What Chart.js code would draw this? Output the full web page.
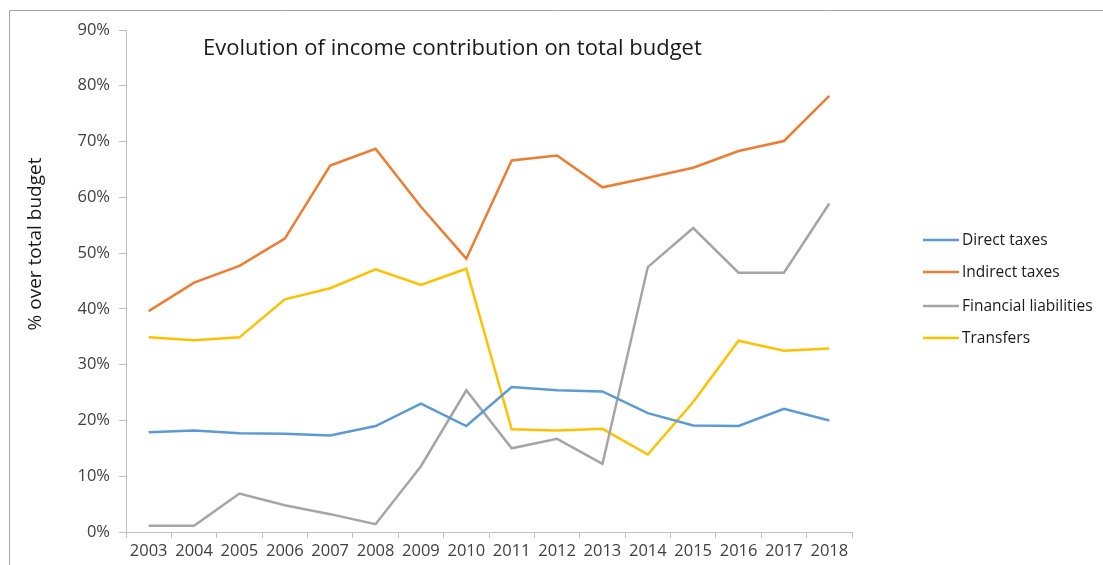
<!DOCTYPE html>
<html>
<head>
<meta charset="utf-8">
<title>Evolution of income contribution on total budget</title>
<script src="https://cdn.jsdelivr.net/npm/chart.js@4.4.1/dist/chart.umd.min.js"></script>
<style>
  html, body { margin: 0; padding: 0; background: #ffffff; }
  #wrap { width: 1103px; height: 565px; position: relative; }
</style>
</head>
<body>
<div id="wrap"><canvas id="chart" width="1103" height="565"></canvas></div>
<script>
// Budget shares by income source, percent of total budget
const years = ['2003','2004','2005','2006','2007','2008','2009','2010','2011','2012','2013','2014','2015','2016','2017','2018'];
const directTaxes = [17.9, 18.2, 17.7, 17.6, 17.3, 19.0, 23.0, 19.0, 26.0, 25.4, 25.2, 21.3, 19.1, 19.0, 22.1, 20.0];
const indirectTaxes = [39.6, 44.7, 47.7, 52.6, 65.7, 68.7, 58.3, 49.0, 66.6, 67.5, 61.8, 63.5, 65.3, 68.3, 70.1, 78.2];
const financialLiabilities = [1.1, 1.1, 6.9, 4.8, 3.2, 1.4, 11.8, 25.4, 15.0, 16.7, 12.2, 47.5, 54.5, 46.5, 46.5, 58.9];
const transfers = [34.9, 34.4, 34.9, 41.7, 43.7, 47.1, 44.3, 47.2, 18.4, 18.2, 18.5, 13.9, 23.3, 34.3, 32.5, 32.9];

const seriesNames = ['Direct taxes', 'Indirect taxes', 'Financial liabilities', 'Transfers'];
const seriesColors = ['#5B9BD5', '#ED7D31', '#A5A5A5', '#FFC000'];
const chartTitle = 'Evolution of income contribution on total budget';
const yAxisTitle = '% over total budget';

const FONT = '"Open Sans", "Liberation Sans", sans-serif';
const TEXT = '#404040';

// Frame, title, rotated axis title and legend drawn on the canvas
const decorations = {
  id: 'decorations',
  beforeDraw(chart) {
    const ctx = chart.ctx;
    ctx.save();
    ctx.strokeStyle = '#a6a6a6';
    ctx.lineWidth = 1;
    ctx.beginPath();
    ctx.moveTo(9.5, 565);
    ctx.lineTo(9.5, 10.5);
    ctx.lineTo(1103, 10.5);
    ctx.stroke();
    ctx.restore();
  },
  afterDraw(chart) {
    const ctx = chart.ctx;
    ctx.save();
    ctx.fillStyle = '#1a1a1a';
    ctx.font = '22px ' + FONT;
    ctx.textAlign = 'left';
    ctx.textBaseline = 'alphabetic';
    ctx.fillText(chartTitle, 203, 55);

    ctx.save();
    ctx.translate(41, 244);
    ctx.rotate(-Math.PI / 2);
    ctx.textAlign = 'center';
    ctx.font = '19px ' + FONT;
    ctx.fillStyle = '#1a1a1a';
    ctx.fillText(yAxisTitle, 0, 0);
    ctx.restore();

    const legendY = [240, 272, 306, 338];
    ctx.font = '15.5px ' + FONT;
    ctx.textBaseline = 'middle';
    chart.data.datasets.forEach((ds, i) => {
      ctx.strokeStyle = ds.borderColor;
      ctx.lineWidth = 2.5;
      ctx.beginPath();
      ctx.moveTo(923, legendY[i]);
      ctx.lineTo(959, legendY[i]);
      ctx.stroke();
      ctx.fillStyle = '#1a1a1a';
      ctx.fillText(ds.label, 962, legendY[i] + 1);
    });
    ctx.restore();
  }
};

const datasets = [directTaxes, indirectTaxes, financialLiabilities, transfers].map((values, i) => ({
  label: seriesNames[i],
  data: values,
  borderColor: seriesColors[i],
  backgroundColor: seriesColors[i],
  borderWidth: 2.5,
  pointRadius: 0,
  tension: 0,
  fill: false
}));

new Chart(document.getElementById('chart'), {
  type: 'line',
  data: { labels: years, datasets },
  plugins: [decorations],
  options: {
    responsive: false,
    animation: false,
    layout: { padding: { left: 0, right: 251, top: 30, bottom: 0 } },
    plugins: {
      legend: { display: false },
      title: { display: false },
      tooltip: { enabled: false }
    },
    scales: {
      x: {
        offset: true,
        grid: {
          offset: true,
          drawOnChartArea: false,
          drawTicks: true,
          tickLength: 6,
          color: '#bfbfbf'
        },
        border: { color: '#bfbfbf', width: 1 },
        ticks: {
          color: TEXT,
          font: { family: FONT, size: 16.5 },
          padding: 3,
          maxRotation: 0,
          autoSkip: false
        },
        afterFit(scale) { scale.height = 33; }
      },
      y: {
        min: 0,
        max: 90,
        grid: {
          drawOnChartArea: false,
          drawTicks: true,
          tickLength: 7,
          color: '#bfbfbf'
        },
        border: { color: '#bfbfbf', width: 1 },
        ticks: {
          stepSize: 10,
          color: TEXT,
          font: { family: FONT, size: 16.5 },
          padding: 9,
          callback: v => v + '%'
        },
        afterFit(scale) { scale.width = 126; }
      }
    }
  }
});
</script>
</body>
</html>
